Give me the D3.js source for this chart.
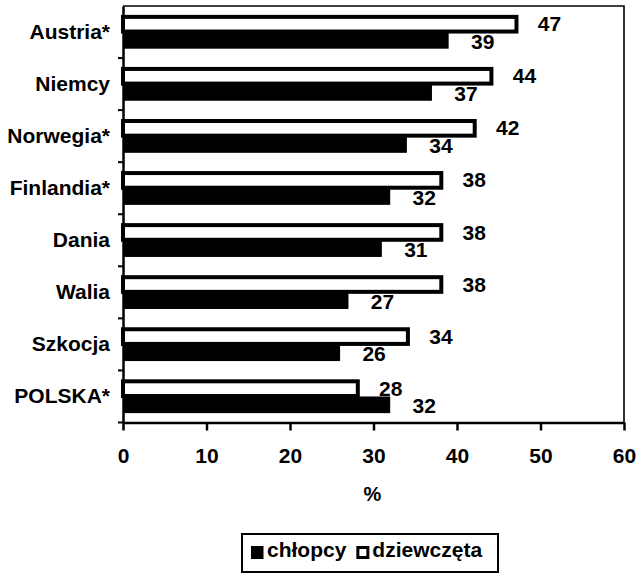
<!DOCTYPE html>
<html>
<head>
<meta charset="utf-8">
<script src="https://cdn.jsdelivr.net/npm/d3@7"></script>
<style>
  html, body { margin: 0; padding: 0; background: #fff; }
  svg { display: block; }
  text { font-family: "Liberation Sans", Arial, Helvetica, sans-serif; font-weight: bold; fill: #000; }
</style>
</head>
<body>
<svg id="chart" width="638" height="574"></svg>
<script>
// Share of pupils (%) by country, boys vs girls
const categories = ["Austria*", "Niemcy", "Norwegia*", "Finlandia*", "Dania", "Walia", "Szkocja", "POLSKA*"];
const chlopcy    = [39, 37, 34, 32, 31, 27, 26, 32];
const dziewczeta = [47, 44, 42, 38, 38, 38, 34, 28];
const xTicks     = [0, 10, 20, 30, 40, 50, 60];
const seriesNames = ["chłopcy", "dziewczęta"];
const axisTitle  = "%";

const svg = d3.select("#chart");
const W = 638, H = 574;
const plot = { left: 123, right: 624, top: 6, bottom: 422.5 };
const FS = 21;

const x = d3.scaleLinear().domain([0, 60]).range([plot.left, plot.right]);
const y = d3.scaleBand().domain(categories).range([plot.top, plot.bottom])
  .paddingInner(0.36).paddingOuter(0.18);
const ySub = d3.scaleBand().domain(["dziewczęta", "chłopcy"]).range([0, y.bandwidth()]);

const rows = categories.map((c, i) => ({ cat: c, boys: chlopcy[i], girls: dziewczeta[i] }));

// plot-area frame (top and right edges)
svg.append("path")
  .attr("d", `M${plot.left},${plot.top}H${plot.right}V${plot.bottom}`)
  .attr("fill", "none").attr("stroke", "#000").attr("stroke-width", 1.6);

const labelOffset = 34;

// boys: solid black bars
svg.append("g").selectAll("rect").data(rows).join("rect")
  .attr("x", x(0))
  .attr("y", d => y(d.cat) + ySub("chłopcy"))
  .attr("width", d => x(d.boys) - x(0))
  .attr("height", ySub.bandwidth())
  .attr("fill", "#000");

// boys values
svg.append("g").selectAll("text").data(rows).join("text")
  .attr("x", d => x(d.boys) + labelOffset)
  .attr("y", d => y(d.cat) + ySub("chłopcy") + ySub.bandwidth() / 2 + 1)
  .attr("dy", "0.36em")
  .attr("text-anchor", "middle")
  .style("font-size", FS + "px")
  .text(d => d.boys);

// girls: white bars with heavy black outline
svg.append("g").selectAll("rect").data(rows).join("rect")
  .attr("x", x(0))
  .attr("y", d => y(d.cat) + ySub("dziewczęta") + 1.5)
  .attr("width", d => x(d.girls) - x(0) + 1)
  .attr("height", ySub.bandwidth() - 2)
  .attr("fill", "#fff")
  .attr("stroke", "#000")
  .attr("stroke-width", 4);

// girls values
svg.append("g").selectAll("text").data(rows).join("text")
  .attr("x", d => x(d.girls) + labelOffset)
  .attr("y", d => y(d.cat) + ySub("dziewczęta") + ySub.bandwidth() / 2)
  .attr("dy", "0.36em")
  .attr("text-anchor", "middle")
  .style("font-size", FS + "px")
  .text(d => d.girls);

// x axis
const xAxis = svg.append("g")
  .attr("transform", `translate(0,${plot.bottom})`)
  .call(d3.axisBottom(x).tickValues(xTicks).tickFormat(d3.format("d"))
    .tickSize(8).tickSizeOuter(0).tickPadding(18));
xAxis.select(".domain").attr("stroke", "#000").attr("stroke-width", 2.5);
xAxis.selectAll(".tick line").attr("stroke", "#000").attr("stroke-width", 2.5);
xAxis.selectAll(".tick text")
  .attr("fill", "#000")
  .style("font-size", FS + "px")
  .style("font-family", "'Liberation Sans', Arial, sans-serif")
  .style("font-weight", "bold");

// y axis: category labels centred on bands
const yAxis = svg.append("g")
  .attr("transform", `translate(${plot.left},0)`)
  .call(d3.axisLeft(y).tickSize(0).tickPadding(13));
yAxis.select(".domain").attr("stroke", "#000").attr("stroke-width", 2.5);
yAxis.selectAll(".tick text")
  .attr("fill", "#000")
  .style("font-size", FS + "px")
  .style("font-family", "'Liberation Sans', Arial, sans-serif")
  .style("font-weight", "bold");

// tick marks on the band boundaries
const boundaries = categories.slice(1).map(c => y(c) - y.step() * y.paddingInner() / 2);
boundaries.push(plot.bottom);
svg.append("g").selectAll("line").data(boundaries).join("line")
  .attr("x1", plot.left - 5).attr("x2", plot.left)
  .attr("y1", d => d).attr("y2", d => d)
  .attr("stroke", "#000").attr("stroke-width", 2);

// axis title
svg.append("text")
  .attr("x", x(30) - 1)
  .attr("y", 501)
  .attr("text-anchor", "middle")
  .style("font-size", "20px")
  .text(axisTitle);

// legend
const legend = svg.append("g");
const legendBox = legend.append("rect")
  .attr("x", 242).attr("y", 534).attr("width", 256).attr("height", 38)
  .attr("fill", "#fff").attr("stroke", "#000").attr("stroke-width", 2);

let cx = 251;
seriesNames.forEach((name, i) => {
  const sw = legend.append("rect")
    .attr("x", cx + (i ? 1.5 : 0)).attr("y", 546 + (i ? 1.5 : 0))
    .attr("width", i ? 10 : 12.5).attr("height", i ? 10 : 13)
    .attr("fill", i ? "#fff" : "#000")
    .attr("stroke", i ? "#000" : "none")
    .attr("stroke-width", i ? 3 : 0);
  const t = legend.append("text")
    .attr("x", cx + 16).attr("y", 557)
    .style("font-size", FS + "px")
    .text(name);
  cx = cx + 16 + t.node().getComputedTextLength() + 10;
});
</script>
</body>
</html>
